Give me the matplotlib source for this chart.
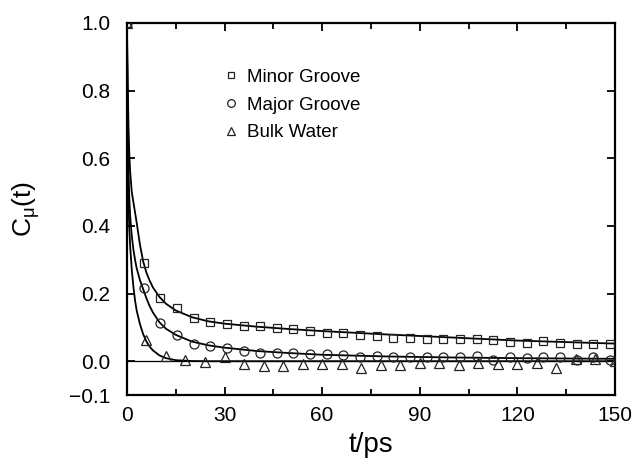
import matplotlib
matplotlib.use("Agg")
import matplotlib.pyplot as plt

plt.rcParams['font.family'] = ['Liberation Sans', 'DejaVu Sans']
plt.rcParams['mathtext.default'] = 'regular'

# ---- data ----
t_groove = [0, 5.12, 10.24, 15.36, 20.48, 25.6, 30.72, 35.84, 40.96, 46.08, 51.2,
            56.32, 61.44, 66.56, 71.68, 76.8, 81.92, 87.04, 92.16, 97.28, 102.4,
            107.52, 112.64, 117.76, 122.88, 128.0, 133.12, 138.24, 143.36, 148.48]
minor_pts = [1.0, 0.291, 0.188, 0.156, 0.128, 0.116, 0.110, 0.104, 0.104, 0.099, 0.094,
             0.089, 0.084, 0.082, 0.078, 0.075, 0.070, 0.070, 0.067, 0.065, 0.067,
             0.065, 0.063, 0.058, 0.053, 0.060, 0.055, 0.050, 0.050, 0.050]
major_pts = [1.0, 0.215, 0.112, 0.077, 0.052, 0.046, 0.040, 0.030, 0.025, 0.025, 0.023,
             0.021, 0.021, 0.018, 0.013, 0.014, 0.011, 0.012, 0.013, 0.011, 0.012,
             0.014, 0.005, 0.011, 0.008, 0.011, 0.011, 0.005, 0.011, 0.003]

t_bulk = [0, 6, 12, 18, 24, 30, 36, 42, 48, 54, 60, 66, 72, 78, 84, 90, 96, 102,
          108, 114, 120, 126, 132, 138, 144, 150]
bulk_pts = [1.0, 0.063, 0.015, 0.005, -0.002, 0.013, -0.009, -0.014, -0.014, -0.009,
            -0.009, -0.009, -0.019, -0.011, -0.011, -0.006, -0.006, -0.011, -0.006,
            -0.008, -0.008, -0.006, -0.020, 0.006, 0.006, 0.0]

# fitted curves
t_fit = [0, 0.25, 0.5, 0.75, 1, 1.5, 2, 2.5, 3, 4, 5, 6, 7, 8, 10, 12, 15, 20, 25,
         30, 40, 50, 60, 80, 100, 120, 150]
minor_fit = [1.0, 0.82, 0.69, 0.61, 0.56, 0.50, 0.47, 0.44, 0.41, 0.345, 0.295, 0.262,
             0.238, 0.218, 0.190, 0.170, 0.150, 0.130, 0.118, 0.111, 0.102, 0.095,
             0.089, 0.079, 0.070, 0.061, 0.052]
major_fit = [1.0, 0.72, 0.56, 0.48, 0.43, 0.37, 0.33, 0.30, 0.275, 0.24, 0.213, 0.186,
             0.163, 0.144, 0.115, 0.096, 0.078, 0.058, 0.047, 0.040, 0.030, 0.024,
             0.019, 0.014, 0.011, 0.009, 0.007]
bulk_fit = [1.0, 0.62, 0.46, 0.39, 0.34, 0.27, 0.22, 0.18, 0.15, 0.11, 0.08, 0.058,
            0.043, 0.032, 0.017, 0.009, 0.003, 0.0005, 0.0, 0.0, 0.0, 0.0, 0.0, 0.0,
            0.0, 0.0, 0.0]

labels = ["Minor Groove", "Major Groove", "Bulk Water"]
x_ticks = [0, 30, 60, 90, 120, 150]
y_ticks = [-0.1, 0.0, 0.2, 0.4, 0.6, 0.8, 1.0]
y_ticklabels = ["\u22120.1", "0.0", "0.2", "0.4", "0.6", "0.8", "1.0"]

# ---- figure ----
fig = plt.figure(figsize=(6.38, 4.59), dpi=100)
ax = fig.add_axes([0.1989, 0.1394, 0.7650, 0.8105])

ax.plot([0, 150], [0, 0], color='black', lw=0.9, zorder=1)
for yf in (minor_fit, major_fit, bulk_fit):
    ax.plot(t_fit, yf, color='black', lw=1.3, zorder=2)

mk = dict(linestyle='none', markerfacecolor='none', markeredgecolor='#222222',
          markeredgewidth=0.9, zorder=3)
h1, = ax.plot(t_groove, minor_pts, marker='s', markersize=5.5, label=labels[0], **mk)
h2, = ax.plot(t_groove, major_pts, marker='o', markersize=6.5, label=labels[1], **mk)
h3, = ax.plot(t_bulk, bulk_pts, marker='^', markersize=6.5, label=labels[2], **mk)

ax.set_xlim(0, 150)
ax.set_ylim(-0.1, 1.0)
ax.set_xticks(x_ticks)
ax.set_xticks([15, 45, 75, 105, 135], minor=True)
ax.set_yticks(y_ticks)
ax.set_yticklabels(y_ticklabels)
ax.tick_params(which='both', direction='in', top=True, right=True, width=1.3,
               labelsize=15)
ax.tick_params(which='major', length=6)
ax.tick_params(which='minor', length=4)
ax.tick_params(axis='y', pad=12)
ax.tick_params(axis='x', pad=8)
for s in ax.spines.values():
    s.set_linewidth(1.6)

ax.set_xlabel("t/ps", fontsize=20, labelpad=5)
ax.set_ylabel(r"C$_{\mu}$(t)", fontsize=19, labelpad=19)

leg = ax.legend(handles=[h1, h2, h3], loc='upper left', bbox_to_anchor=(0.198, 0.877),
                frameon=False, fontsize=13.5, handlelength=0.8, handletextpad=0.45,
                labelspacing=0.56, markerscale=0.85, borderpad=0.0, borderaxespad=0.0)

fig.savefig("out.png", dpi=100)
